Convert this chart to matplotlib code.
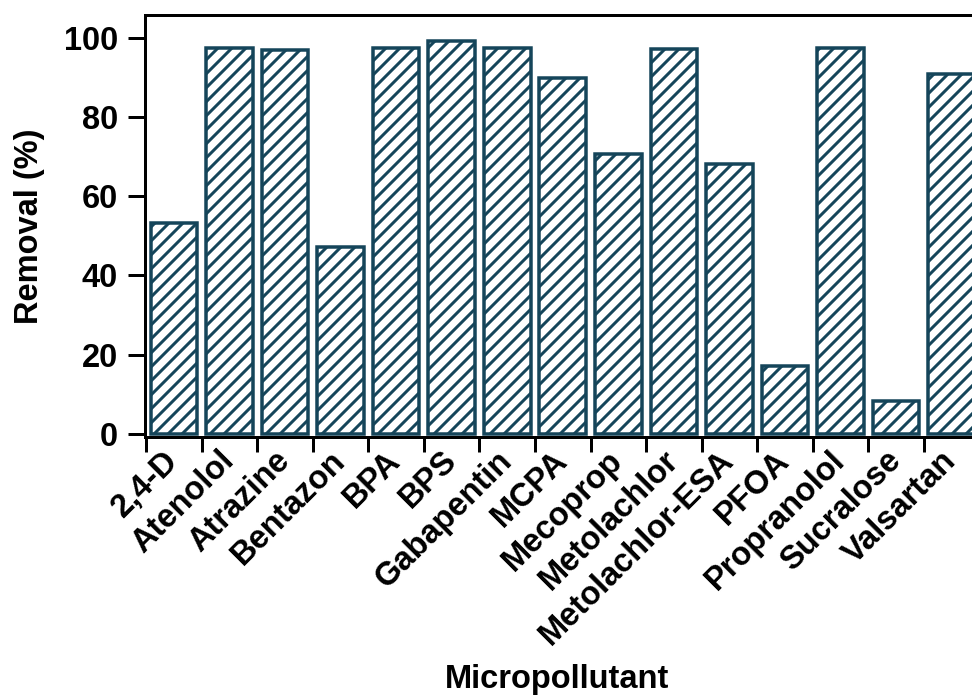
import matplotlib
matplotlib.use("Agg")
import matplotlib.pyplot as plt
import numpy as np

# Removal data
compounds = ["2,4-D", "Atenolol", "Atrazine", "Bentazon", "BPA", "BPS",
             "Gabapentin", "MCPA", "Mecoprop", "Metolachlor",
             "Metolachlor-ESA", "PFOA", "Propranolol", "Sucralose", "Valsartan"]
removal = [53.3, 97.5, 97.0, 47.2, 97.5, 99.2, 97.5, 89.9, 70.7, 97.2,
           68.2, 17.2, 97.5, 8.3, 90.9]

DPI = 84
px = 72.0 / DPI  # points per pixel
FS = 28

plt.rcParams['font.family'] = ['Liberation Sans', 'DejaVu Sans']
plt.rcParams['font.weight'] = 'bold'
plt.rcParams['hatch.linewidth'] = 3.0 * px

fig = plt.figure(figsize=(972 / DPI, 696 / DPI), dpi=DPI)
# axes runs off the right edge like the cropped original
ax = fig.add_axes([145 / 972, 1 - 437 / 696, 840 / 972, (437 - 15) / 696])

x = np.arange(len(compounds))
ax.bar(x, removal, width=0.84, color='white', edgecolor='#15455a',
       linewidth=3.5 * px, hatch='//')

ax.set_xlim(-0.52, 14.6)
ax.set_ylim(-0.8, 105.8)

for side in ['left', 'bottom', 'top']:
    ax.spines[side].set_linewidth(3 * px)
ax.spines['right'].set_visible(False)

ax.set_yticks([0, 20, 40, 60, 80, 100])
ax.tick_params(axis='y', length=17 * px, width=3 * px, pad=10 * px,
               labelsize=FS)

ax.set_xticks(x)
ax.set_xticks(np.arange(-0.5, len(compounds), 1.0), minor=True)
ax.set_xticklabels(compounds)
ax.tick_params(axis='x', which='major', length=0, pad=19 * px, labelsize=FS)
ax.tick_params(axis='x', which='minor', length=15 * px, width=3 * px)
plt.setp(ax.get_xticklabels(), rotation=45, ha='right', va='center',
         rotation_mode='anchor')

ax.set_ylabel("Removal (%)", fontsize=FS, fontweight='bold')
ax.yaxis.set_label_coords((30 - 145) / 840, 0.5)
ax.set_xlabel("Micropollutant", fontsize=FS, fontweight='bold')
ax.xaxis.set_label_coords((557 - 145) / 840, -(679 - 437) / 422)
ax.xaxis.label.set_va('center')
ax.yaxis.label.set_va('center')

fig.savefig("out.png", dpi=DPI)
